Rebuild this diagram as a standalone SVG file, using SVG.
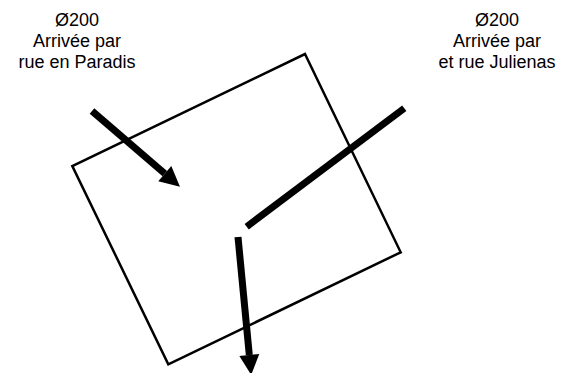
<svg xmlns="http://www.w3.org/2000/svg" width="573" height="373" viewBox="0 0 573 373">
<style>
text{font-family:"Liberation Sans",Arial,sans-serif;font-size:18px;fill:#000;text-anchor:middle}
.box{fill:none;stroke:#000;stroke-width:2.5;stroke-linejoin:miter}
.pipe{fill:none;stroke:#000;stroke-width:7;stroke-linecap:butt}
</style>
<defs>
<marker id="ah" markerUnits="userSpaceOnUse" markerWidth="20" markerHeight="20" viewBox="0 -10 20 20" refX="0" refY="0" orient="auto" overflow="visible">
<path d="M0,-10 L20,0 L0,10 z" fill="#000"/>
</marker>
</defs>
<g id="bassin">
<polygon class="box" points="305,54 400.7,252.3 168.3,364.3 72.3,166"/>
</g>
<g id="label-paradis">
<text x="77" y="26">Ø200</text>
<text x="77" y="47">Arrivée par</text>
<text x="77" y="68">rue en Paradis</text>
</g>
<g id="label-julienas">
<text x="497" y="26">Ø200</text>
<text x="497" y="47">Arrivée par</text>
<text x="497" y="68">et rue Julienas</text>
</g>
<g id="connectors">
<line class="pipe" x1="92" y1="111" x2="164.8" y2="173.6" marker-end="url(#ah)"/>
<line class="pipe" x1="404.3" y1="108.3" x2="246.7" y2="226.7"/>
<line class="pipe" x1="238" y1="237" x2="249.3" y2="355" marker-end="url(#ah)"/>
</g>
</svg>
